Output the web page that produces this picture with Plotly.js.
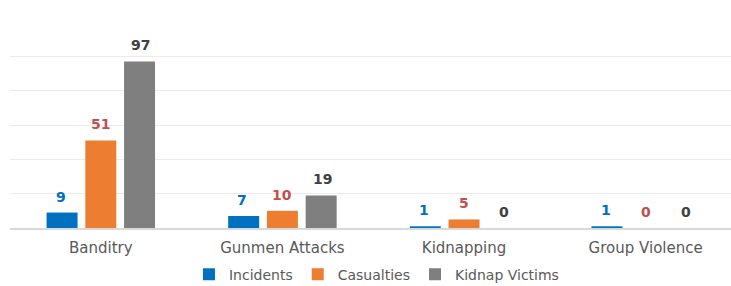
<!DOCTYPE html>
<html><head><meta charset="utf-8">
<script src="https://cdn.plot.ly/plotly-3.0.1.min.js"></script>
<style>html,body{margin:0;padding:0;background:#fff}#c{width:731px;height:286px}</style>
</head><body><div id="c"></div>
<script>
const categories = ["Banditry", "Gunmen Attacks", "Kidnapping", "Group Violence"];
const incidents = [9, 7, 1, 1];
const casualties = [51, 10, 5, 0];
const kidnapVictims = [97, 19, 0, 0];
const seriesNames = ["Incidents", "Casualties", "Kidnap Victims"];
const barColors = ["#0070C0", "#ED7D31", "#7F7F7F"];
const labelColors = ["#0070C0", "#C0504D", "#404040"];

const allSeries = [incidents, casualties, kidnapVictims];
const xIdx = categories.map((c, i) => i);
const traces = allSeries.map((vals, s) => ({
  type: 'bar', x: xIdx, y: vals, name: seriesNames[s],
  marker: {color: barColors[s]}, hoverinfo: 'none'
}));

const offsets = [-0.22, 0, 0.22];
const annotations = [];
allSeries.forEach((vals, s) => {
  vals.forEach((v, i) => {
    annotations.push({
      x: i + offsets[s], y: v, xref: 'x', yref: 'y', text: String(v),
      showarrow: false, yanchor: 'bottom', yshift: 6,
      font: {family: 'DejaVu Sans, sans-serif', size: 14, color: labelColors[s], weight: 'bold'}
    });
  });
});

const layout = {
  width: 731, height: 286,
  margin: {l: 10, r: 0, t: 22, b: 58},
  paper_bgcolor: '#fff', plot_bgcolor: '#fff',
  barmode: 'group', bargap: 0.36, bargroupgap: 0.2,
  showlegend: true,
  legend: {orientation: 'h', x: 0.515, xanchor: 'center', xref: 'container', y: 0.04, yanchor: 'middle', yref: 'container',
    font: {family: 'DejaVu Sans, sans-serif', size: 14, color: '#595959'}, itemwidth: 30, traceorder: 'normal'},
  xaxis: {
    tickmode: 'array', tickvals: xIdx, ticktext: categories, range: [-0.5, 3.47],
    showgrid: false, zeroline: false, showline: true, linecolor: '#D9D9D9', linewidth: 1.5,
    ticks: '', ticklabelstandoff: 5, tickfont: {family: 'DejaVu Sans, sans-serif', size: 15, color: '#595959'}
  },
  yaxis: {
    range: [0, 120], dtick: 20, showticklabels: false, gridcolor: '#EBEBEB', gridwidth: 1,
    zeroline: false, showline: false, ticks: ''
  },
  annotations: annotations,
  font: {family: 'DejaVu Sans, sans-serif'}
};
Plotly.newPlot('c', traces, layout, {displayModeBar: false, staticPlot: true});
</script></body></html>
